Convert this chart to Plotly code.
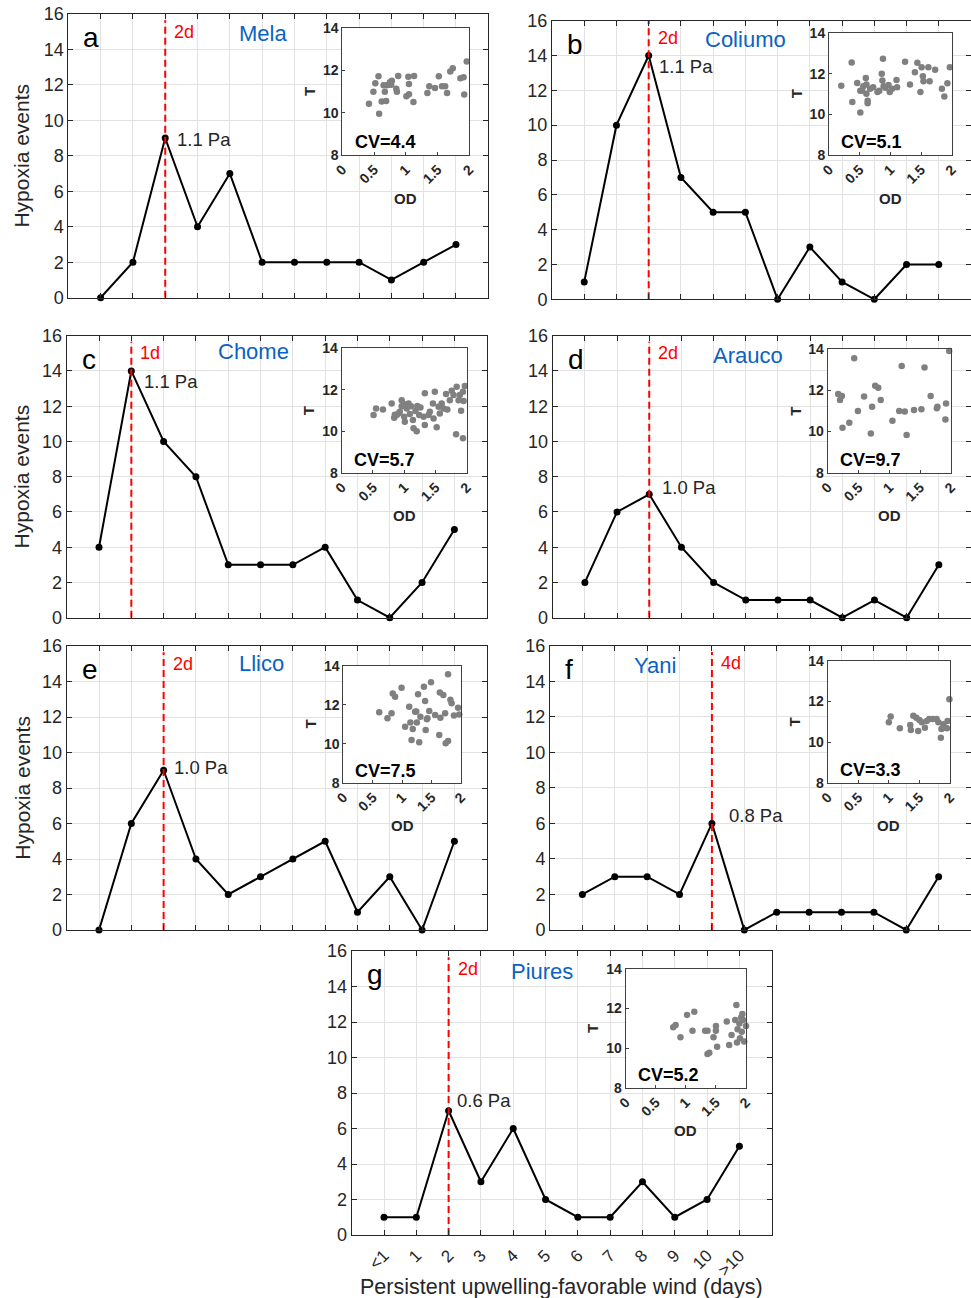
import plotly.graph_objects as go

W, H = 971, 1298
FONT = "Liberation Sans, Arial, sans-serif"
TXT = "#262626"

# ---------------- data ----------------
categories = ["<1", "1", "2", "3", "4", "5", "6", "7", "8", "9", "10", ">10"]
panel_letters = ["a", "b", "c", "d", "e", "f", "g"]
stations = ["Mela", "Coliumo", "Chome", "Arauco", "Llico", "Yani", "Piures"]

events_mela = [0, 2, 9, 4, 7, 2, 2, 2, 2, 1, 2, 3]
events_coliumo = [1, 10, 14, 7, 5, 5, 0, 3, 1, 0, 2, 2]
events_chome = [4, 14, 10, 8, 3, 3, 3, 4, 1, 0, 2, 5]
events_arauco = [2, 6, 7, 4, 2, 1, 1, 1, 0, 1, 0, 3]
events_llico = [0, 6, 9, 4, 2, 3, 4, 5, 1, 3, 0, 5]
events_yani = [2, 3, 3, 2, 6, 0, 1, 1, 1, 1, 0, 3]
events_piures = [1, 1, 7, 3, 6, 2, 1, 1, 3, 1, 2, 5]

threshold_labels = ["2d", "2d", "1d", "2d", "2d", "4d", "2d"]
stress_labels = ["1.1 Pa", "1.1 Pa", "1.1 Pa", "1.0 Pa", "1.0 Pa", "0.8 Pa", "0.6 Pa"]
cv_values = [4.4, 5.1, 5.7, 9.7, 7.5, 3.3, 5.2]

od_mela = [0.42, 0.49, 0.52, 0.57, 0.58, 0.62, 0.65, 0.67, 0.69, 0.70, 0.73, 0.75, 0.77, 0.78, 0.85, 0.86, 0.88, 1.01,
           1.04, 1.05, 1.05, 1.12, 1.13, 1.34, 1.37, 1.46, 1.52, 1.57, 1.62, 1.65, 1.70, 1.74, 1.86, 1.91, 1.92, 1.96]
t_mela = [10.43, 11.0, 11.4, 11.73, 9.95, 10.53, 11.3, 11.0, 10.56, 11.3, 11.33, 11.44, 11.33, 11.52, 11.14, 11.0, 11.74,
          10.78, 11.71, 11.36, 10.88, 10.51, 11.74, 10.94, 11.26, 11.17, 11.73, 11.26, 11.26, 10.94, 11.95, 12.11, 11.63,
          11.68, 10.86, 12.43]

od_coliumo = [0.2, 0.37, 0.38, 0.46, 0.51, 0.51, 0.54, 0.56, 0.6, 0.61, 0.61, 0.63, 0.63, 0.67, 0.72, 0.79, 0.82, 0.86,
              0.88, 0.87, 0.89, 0.92, 0.97, 0.99, 1.03, 1.10, 1.11, 1.24, 1.32, 1.40, 1.44, 1.49, 1.51, 1.53, 1.54, 1.62,
              1.64, 1.73, 1.84, 1.88, 1.93, 1.97]
t_coliumo = [11.42, 12.56, 10.61, 11.55, 10.10, 11.17, 11.17, 11.39, 11.8, 11.47, 11.02, 10.55, 10.68, 11.27, 11.34,
             11.1, 11.17, 12.0, 12.74, 11.67, 11.39, 11.31, 11.45, 11.1, 11.27, 11.7, 11.34, 12.6, 11.47, 12.08, 12.55,
             11.1, 12.33, 11.88, 11.64, 12.33, 11.64, 12.2, 11.27, 10.89, 11.54, 12.33]

od_chome = [0.51, 0.55, 0.66, 0.8, 0.84, 0.88, 0.93, 0.96, 0.99, 1.0, 1.01, 1.04, 1.07, 1.09, 1.14, 1.15, 1.2, 1.21,
            1.24, 1.26, 1.31, 1.33, 1.33, 1.39, 1.41, 1.46, 1.47, 1.49, 1.52, 1.55, 1.57, 1.6, 1.63, 1.67, 1.69, 1.73,
            1.76, 1.79, 1.83, 1.84, 1.87, 1.89, 1.91, 1.94, 1.95, 1.97, 1.94, 0.91, 1.03, 1.11, 1.18, 0.85, 0.96]
t_chome = [10.78, 11.10, 11.05, 11.34, 10.65, 10.78, 10.94, 11.5, 11.22, 10.7, 10.46, 11.1, 11.34, 10.83, 10.54, 10.14,
           10.0, 11.22, 10.78, 11.15, 10.7, 11.83, 10.3, 10.78, 10.94, 11.34, 10.62, 11.9, 10.19, 11.18, 10.86, 11.34,
           11.1, 11.79, 11.05, 11.5, 11.95, 11.75, 9.85, 12.15, 11.5, 11.75, 10.99, 9.66, 11.46, 12.18, 11.9, 10.86,
           11.3, 11.2, 10.98, 10.8, 11.2]

od_arauco = [0.17, 0.2, 0.23, 0.24, 0.35, 0.43, 0.49, 0.59, 0.7, 0.72, 0.77, 0.82, 0.86, 1.05, 1.16, 1.2, 1.25, 1.28,
             1.4, 1.52, 1.57, 1.67, 1.77, 1.78, 1.91, 1.92, 1.97]
t_arauco = [11.83, 11.53, 11.73, 10.19, 10.43, 13.56, 11.0, 11.7, 9.91, 11.21, 12.23, 12.13, 11.53, 10.53, 11.0, 13.19,
            10.97, 9.83, 11.05, 11.08, 13.12, 11.73, 11.13, 11.21, 10.59, 11.37, 13.92]

od_llico = [0.61, 0.75, 0.82, 0.84, 0.88, 0.99, 1.05, 1.12, 1.14, 1.16, 1.18, 1.22, 1.25, 1.27, 1.29, 1.31, 1.37, 1.39,
            1.4, 1.43, 1.46, 1.49, 1.56, 1.63, 1.64, 1.65, 1.7, 1.73, 1.74, 1.78, 1.78, 1.82, 1.84, 1.88, 1.95, 1.97,
            1.24, 1.42]
t_llico = [11.61, 11.3, 11.56, 12.58, 12.41, 12.87, 10.87, 11.9, 11.09, 10.19, 10.75, 11.64, 11.09, 12.53, 10.07, 11.38,
           12.92, 12.19, 10.7, 11.3, 11.68, 13.15, 11.47, 10.44, 12.63, 11.33, 12.5, 11.56, 10.02, 13.56, 10.14, 12.25,
           12.08, 11.44, 11.85, 11.5, 11.65, 11.25]

od_yani = [1.0, 1.03, 1.18, 1.35, 1.36, 1.4, 1.45, 1.48, 1.5, 1.54, 1.59, 1.62, 1.66, 1.72, 1.78, 1.81, 1.85, 1.86,
           1.89, 1.92, 1.96, 1.99, 1.95]
t_yani = [10.98, 11.26, 10.68, 10.85, 10.6, 11.3, 11.2, 10.55, 11.09, 10.98, 10.71, 11.04, 11.14, 11.14, 11.14, 10.98,
          10.22, 10.65, 10.88, 10.71, 11.04, 12.11, 10.68]

od_piures = [0.79, 0.83, 0.91, 1.02, 1.11, 1.14, 1.32, 1.36, 1.36, 1.39, 1.46, 1.5, 1.5, 1.52, 1.68, 1.72, 1.76, 1.82,
             1.84, 1.85, 1.86, 1.89, 1.9, 1.93, 1.94, 1.95, 1.97, 2.0, 1.92]
t_piures = [11.05, 11.17, 10.55, 11.68, 10.88, 11.84, 10.88, 10.88, 9.7, 9.77, 10.55, 11.12, 10.88, 10.07, 11.34, 10.16,
            10.66, 11.42, 12.18, 10.28, 10.95, 11.25, 10.5, 10.83, 11.73, 11.42, 10.33, 11.12, 11.55]

events = [events_mela, events_coliumo, events_chome, events_arauco, events_llico, events_yani, events_piures]
ods = [od_mela, od_coliumo, od_chome, od_arauco, od_llico, od_yani, od_piures]
temps = [t_mela, t_coliumo, t_chome, t_arauco, t_llico, t_yani, t_piures]

# ---------------- layout geometry (pixels: left, top, right, bottom) ----------------
main_boxes = [(68.3, 14, 488.3, 297.7), (552, 20.7, 971, 299.3),
              (66.7, 335.7, 486.7, 617.7), (552.7, 335.7, 971, 617.7),
              (66.7, 646, 486.7, 930), (550, 645.7, 971, 930),
              (351.7, 951, 771.7, 1235)]
inset_boxes = [(342.3, 28.3, 469.3, 155), (829, 33.3, 951.7, 155),
               (341.7, 348.3, 466.7, 472.7), (827.7, 349.3, 951, 472.7),
               (343.3, 665.7, 461, 782.7), (827.7, 661, 950, 782.7),
               (625.7, 969, 746, 1087.7)]
name_pos = [(6.03, 14.9), (6.0, 14.9), (5.77, 15.1), (6.06, 14.9), (6.04, 15.0), (3.24, 14.9), (5.88, 14.87)]
stress_pos = [(3.3, 8.9), (3.25, 13.36), (2.32, 13.4), (3.32, 7.4), (3.25, 9.16), (5.45, 6.42), (3.2, 7.58)]
ylabel_panels = [0, 2, 4]


def xdom(b):
    return [max(0, b[0] / W), min(1, b[2] / W)]


def ydom(b):
    return [1 - b[3] / H, 1 - b[1] / H]


xpos = list(range(1, len(categories) + 1))
tickvals_main = list(range(0, len(categories) + 2))
ticktext_main = [""] + categories + [""]

fig = go.Figure()
layout = dict(width=W, height=H, margin=dict(l=0, r=0, t=0, b=0, autoexpand=False),
              paper_bgcolor="white", plot_bgcolor="white", showlegend=False,
              font=dict(family=FONT, color=TXT))
annotations = []

n = len(stations)
for i in range(n):
    k = i + 1
    xa, ya = f"x{k}", f"y{k}"
    thr = categories.index(threshold_labels[i][:-1]) + 1
    ytop = 16 if i == 1 else 15.65
    fig.add_trace(go.Scatter(x=xpos, y=events[i], mode="lines+markers", xaxis=xa, yaxis=ya,
                             line=dict(color="black", width=2), marker=dict(color="black", size=7),
                             cliponaxis=False))
    fig.add_trace(go.Scatter(x=[thr, thr], y=[0, ytop], mode="lines", xaxis=xa, yaxis=ya,
                             line=dict(color="#ff0000", width=2, dash="7px,4px"), hoverinfo="skip"))
    show_labels = (i == n - 1)
    layout[f"xaxis{k}"] = dict(domain=xdom(main_boxes[i]), anchor=ya, range=[0, len(categories) + 1],
                               automargin=False,
                               tickmode="array", tickvals=tickvals_main,
                               ticktext=ticktext_main if show_labels else [""] * len(tickvals_main),
                               tickangle=-45, tickfont=dict(size=17, color=TXT), ticklabelstandoff=3,
                               showgrid=True, gridcolor="#e2e2e2", gridwidth=1, zeroline=False,
                               showline=True, linecolor=TXT, linewidth=1, mirror="ticks",
                               ticks="inside", ticklen=5, tickcolor=TXT)
    layout[f"yaxis{k}"] = dict(domain=ydom(main_boxes[i]), anchor=xa, range=[0, 16], automargin=False,
                               tickmode="array", tickvals=list(range(0, 17, 2)),
                               tickfont=dict(size=18, color=TXT),
                               showgrid=True, gridcolor="#e2e2e2", gridwidth=1, zeroline=False,
                               showline=True, linecolor=TXT, linewidth=1, mirror="ticks",
                               ticks="inside", ticklen=5, tickcolor=TXT)
    annotations.append(dict(x=0.4, y=14.65, xref=xa, yref=ya, text=panel_letters[i], showarrow=False,
                            xanchor="left", yanchor="middle", font=dict(size=28, color="black")))
    annotations.append(dict(x=thr + 0.22, y=15.0, xref=xa, yref=ya, text=threshold_labels[i], showarrow=False,
                            xanchor="left", yanchor="middle", font=dict(size=18, color="#ff0000")))
    annotations.append(dict(x=name_pos[i][0], y=name_pos[i][1], xref=xa, yref=ya, text=stations[i],
                            showarrow=False, xanchor="center", yanchor="middle",
                            font=dict(size=22, color="#0a62c4")))
    annotations.append(dict(x=stress_pos[i][0], y=stress_pos[i][1], xref=xa, yref=ya, text=stress_labels[i],
                            showarrow=False, xanchor="left", yanchor="middle", font=dict(size=18.5, color=TXT)))
    if i in ylabel_panels:
        b = main_boxes[i]
        annotations.append(dict(x=21.7 / W, y=1 - (b[1] + b[3]) / 2 / H, xref="paper", yref="paper",
                                text="Hypoxia events", textangle=-90, showarrow=False,
                                xanchor="center", yanchor="middle", font=dict(size=21, color=TXT)))

# insets (drawn after the main panels so their white background covers the grid)
for i in range(n):
    k = n + i + 1
    xa, ya = f"x{k}", f"y{k}"
    fig.add_trace(go.Scatter(x=ods[i], y=temps[i], mode="markers", xaxis=xa, yaxis=ya,
                             marker=dict(color="#808080", size=6.5), cliponaxis=False))
    b = inset_boxes[i]
    layout[f"xaxis{k}"] = dict(domain=xdom(b), anchor=ya, range=[0, 2], tickmode="array", automargin=False,
                               tickvals=[0, 0.5, 1, 1.5, 2], ticktext=["0", "0.5", "1", "1.5", "2"],
                               tickangle=-45, tickfont=dict(size=14, color=TXT, weight="bold"),
                               showgrid=False, zeroline=False, showline=True, linecolor="#404040",
                               linewidth=1, mirror=True, ticks="inside", ticklen=3, tickcolor="#404040")
    layout[f"yaxis{k}"] = dict(domain=ydom(b), anchor=xa, range=[8, 14], tickmode="array", automargin=False,
                               tickvals=[8, 10, 12, 14], tickfont=dict(size=14, color=TXT, weight="bold"),
                               showgrid=False, zeroline=False, showline=True, linecolor="#404040",
                               linewidth=1, mirror=True, ticks="inside", ticklen=3, tickcolor="#404040")
    annotations.append(dict(x=0.17, y=8.62, xref=xa, yref=ya, text=f"CV={cv_values[i]}", showarrow=False,
                            xanchor="left", yanchor="middle",
                            font=dict(size=18, color="black", weight="bold")))
    annotations.append(dict(x=(b[0] - 33) / W, y=1 - (b[1] + b[3]) / 2 / H, xref="paper", yref="paper",
                            text="T", textangle=-90, showarrow=False, xanchor="center", yanchor="middle",
                            font=dict(size=15, color=TXT, weight="bold")))
    annotations.append(dict(x=(b[0] + b[2]) / 2 / W, y=1 - (b[3] + 43) / H, xref="paper", yref="paper",
                            text="OD", showarrow=False, xanchor="center", yanchor="middle",
                            font=dict(size=15, color=TXT, weight="bold")))

annotations.append(dict(x=561 / W, y=1 - 1287 / H, xref="paper", yref="paper",
                        text="Persistent upwelling-favorable wind (days)", showarrow=False,
                        xanchor="center", yanchor="middle", font=dict(size=21.5, color=TXT)))

layout["annotations"] = annotations
fig.update_layout(**layout)
fig.write_html("out.html", config={"displayModeBar": False},
               post_script="document.body.style.margin='0';document.body.style.padding='0';"
                           "document.body.style.overflow='hidden';")
